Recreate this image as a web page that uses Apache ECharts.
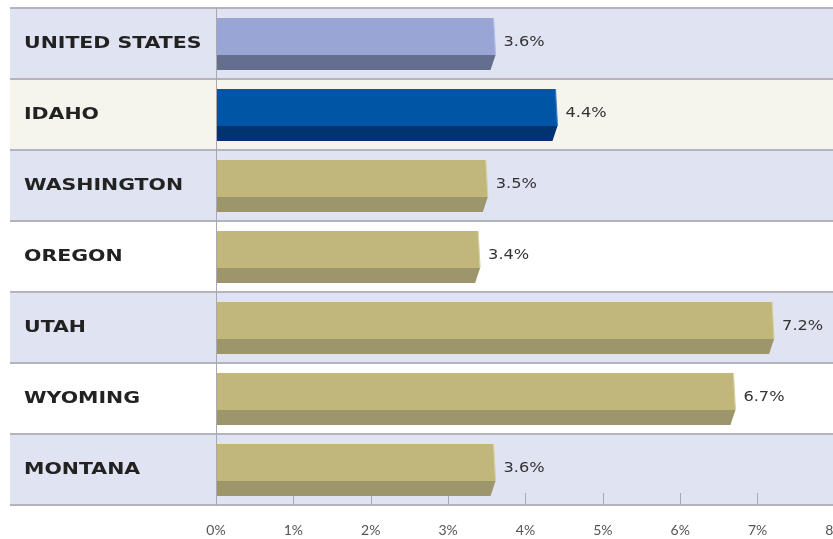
<!DOCTYPE html>
<html><head><meta charset="utf-8">
<style>html,body{margin:0;padding:0;background:#fff}#c{width:833px;height:539px}</style>
<script src="https://cdn.jsdelivr.net/npm/echarts@6/dist/echarts.min.js"></script>
</head><body><div id="c"></div>
<script>
const categories = ['UNITED STATES','IDAHO','WASHINGTON','OREGON','UTAH','WYOMING','MONTANA'];
const values = [3.6, 4.4, 3.5, 3.4, 7.2, 6.7, 3.6];
const tickLabels = ['0%','1%','2%','3%','4%','5%','6%','7%','8%'];

const rowBg = ['#e0e3f2','#f6f5ed','#e0e3f2','#ffffff','#e0e3f2','#ffffff','#e0e3f2'];
const faceCol = i => i===0 ? '#98a5d5' : i===1 ? '#0056a4' : '#c1b77b';
const sideCol = i => i===0 ? '#646f8f' : i===1 ? '#00336f' : '#9d966d';
const edgeCol = i => i===0 ? '#b4bee3' : i===1 ? '#3a7fc0' : '#d6d0a4';

const chart = echarts.init(document.getElementById('c'), null, {renderer:'canvas'});
chart.setOption({
  animation:false,
  grid:{left:216, top:8, width:619, bottom:34, outerBoundsMode:'none', containLabel:false},
  xAxis:{type:'value', min:0, max:8, interval:1,
    axisLine:{show:false},
    axisTick:{show:true, inside:true, length:12, lineStyle:{color:'#a8a8ae', width:1}},
    splitLine:{show:false},
    axisLabel:{margin:18, color:'#555', fontFamily:'Lato', fontWeight:400, fontSize:14,
      formatter:v=>tickLabels[v]}},
  yAxis:{type:'category', data:categories, inverse:true,
    axisLine:{show:true, lineStyle:{color:'#a8a8ae', width:1}},
    axisTick:{show:false},
    axisLabel:{show:false}},
  series:[
    {type:'custom', z:0, silent:true, clip:false,
     data:categories.map((c,i)=>[0,i]),
     renderItem:(params, api)=>{
       const i = api.value(1);
       const c = api.coord([0,i]);
       const h = api.size([0,1])[1];
       const top = c[1]-h/2;
       const W = api.getWidth();
       const kids = [
         {type:'rect', shape:{x:10, y:top, width:W-10, height:h}, style:{fill:rowBg[i]}},
         {type:'line', shape:{x1:10,y1:top,x2:W,y2:top}, style:{stroke:'#b4b4bc', lineWidth:2}},
         {type:'text', x:24, y:c[1], scaleX:1.28, style:{x:0, y:0, text:categories[i], fill:'#222',
           font:'bold 16px "DejaVu Sans"', textVerticalAlign:'middle'}}
       ];
       if (i===categories.length-1) kids.push({type:'line', shape:{x1:10,y1:top+h,x2:W,y2:top+h}, style:{stroke:'#b4b4bc', lineWidth:2}});
       return {type:'group', children:kids};
     }},
    {type:'custom', z:2, clip:false,
     data:values.map((v,i)=>[v,i]),
     renderItem:(params, api)=>{
       const i = params.dataIndex;
       const v = api.value(0);
       const c0 = api.coord([0, i]);
       const c1 = api.coord([v, i]);
       const h = api.size([0,1])[1];
       const top = c0[1]-h/2+10;
       const mid = top+37, bot = top+52;
       const x0 = c0[0]+1, xe = c1[0]+1;
       return {type:'group', children:[
         {type:'polygon', shape:{points:[[x0,top],[xe-2,top],[xe,mid],[x0,mid]]}, style:{fill:faceCol(i)}},
         {type:'line', shape:{x1:xe-2,y1:top,x2:xe,y2:mid}, style:{stroke:edgeCol(i), lineWidth:1.2}},
         {type:'polygon', shape:{points:[[x0,mid],[xe,mid],[xe-5,bot],[x0,bot]]}, style:{fill:sideCol(i)}},
         {type:'text', x:xe+8, y:c0[1]-1, scaleX:1.2, style:{x:0, y:0, text:v.toFixed(1)+'%', fill:'#333', font:'500 13.5px "DejaVu Sans"', textVerticalAlign:'middle'}}
       ]};
     }}
  ]
});
</script></body></html>
